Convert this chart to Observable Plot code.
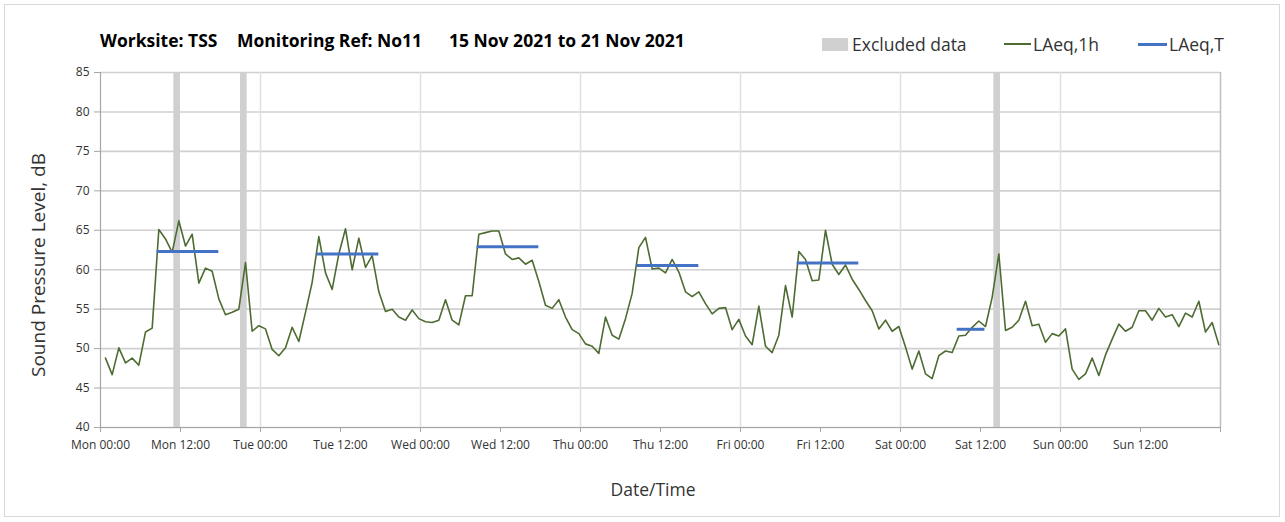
<!DOCTYPE html>
<html><head><meta charset="utf-8">
<script src="https://cdn.jsdelivr.net/npm/d3@7"></script>
<script src="https://cdn.jsdelivr.net/npm/@observablehq/plot@0.6"></script>
<style>
body{margin:0;background:#fff;font-family:"Open Sans",sans-serif;}
#wrap{position:relative;width:1285px;height:522px;overflow:hidden;background:#fff}
#border{position:absolute;left:4px;top:4px;width:1276px;height:513px;border:1px solid #d9d9d9;box-sizing:border-box;pointer-events:none}
#chart{position:absolute;left:0;top:0}
.t{position:absolute;top:29px;font-weight:bold;font-size:17.5px;color:#000;white-space:nowrap;line-height:22px}
.lg{position:absolute;top:32px;font-size:17.5px;color:#333;white-space:nowrap;line-height:24px}
.sw{position:absolute}
.ax{position:absolute;color:#333;white-space:nowrap;line-height:24px}
</style></head>
<body>
<div id="wrap">
  <div id="chart"></div>
  <div id="border"></div>
  <div class="t" style="left:100px">Worksite: TSS</div>
  <div class="t" style="left:237px">Monitoring Ref: No11</div>
  <div class="t" style="left:449px">15 Nov 2021 to 21 Nov 2021</div>
  <div class="sw" style="left:822px;top:38px;width:26px;height:13px;background:#d0d0d0"></div>
  <div class="lg" style="left:852px">Excluded data</div>
  <div class="sw" style="left:1004px;top:43px;width:27px;height:2px;background:#4e6b32"></div>
  <div class="lg" style="left:1033px">LAeq,1h</div>
  <div class="sw" style="left:1138px;top:43px;width:29px;height:3px;background:#4472c4"></div>
  <div class="lg" style="left:1169px">LAeq,T</div>
  <div class="ax" style="left:653px;top:477px;font-size:17.5px;transform:translateX(-50%)">Date/Time</div>
  <div class="ax" style="left:38px;top:265px;font-size:19px;transform:translate(-50%,-50%) rotate(-90deg)">Sound Pressure Level, dB</div>
</div>
<script>
// ---- data ----
const dayNames = ["Mon","Tue","Wed","Thu","Fri","Sat","Sun"];
const periodStart = "2021-11-15T00:00:00Z";
const periodEnd = "2021-11-22T00:00:00Z";
const firstReading = "2021-11-15T00:45:00Z"; // hourly readings from here
const laeq1h = [
  48.8,46.7,50.1,48.2,48.8,47.9,52.1,52.6,65.1,63.9,62.2,66.2,63.0,64.5,58.3,60.2,59.8,56.3,54.3,54.6,55.0,60.9,52.2,52.9,
  52.5,49.9,49.1,50.1,52.7,50.9,54.6,58.4,64.2,59.6,57.5,62.0,65.2,60.0,64.0,60.3,61.8,57.2,54.7,55.0,54.0,53.6,54.9,53.8,
  53.4,53.3,53.6,56.2,53.6,53.0,56.7,56.7,64.5,64.7,64.9,64.9,62.0,61.3,61.5,60.7,61.2,58.5,55.5,55.1,56.2,54.0,52.4,51.9,
  50.6,50.3,49.4,54.0,51.7,51.2,53.8,57.0,62.8,64.1,60.1,60.2,59.6,61.3,59.7,57.2,56.6,57.2,55.7,54.4,55.1,55.2,52.4,53.7,
  51.6,50.5,55.4,50.3,49.5,51.7,58.0,54.0,62.3,61.3,58.6,58.7,65.0,60.7,59.4,60.6,58.8,57.5,56.1,54.8,52.5,53.6,52.2,52.8,
  50.2,47.4,49.7,46.8,46.2,49.1,49.7,49.5,51.6,51.7,52.7,53.5,52.8,56.5,62.0,52.3,52.7,53.6,56.0,52.9,53.1,50.8,51.9,51.6,
  52.5,47.4,46.1,46.8,48.8,46.6,49.2,51.2,53.1,52.2,52.7,54.8,54.8,53.6,55.1,54.0,54.3,52.8,54.5,54.0,56.0,52.1,53.3,50.5
];
const excludedFrom = ["2021-11-15T11:00:00Z","2021-11-15T21:00:00Z","2021-11-20T14:00:00Z"];
const excludedTo   = ["2021-11-15T12:00:00Z","2021-11-15T22:00:00Z","2021-11-20T15:00:00Z"];
const laeqTFrom = ["2021-11-15T08:30:00Z","2021-11-16T08:30:00Z","2021-11-17T08:30:00Z","2021-11-18T08:30:00Z","2021-11-19T08:30:00Z","2021-11-20T08:30:00Z"];
const laeqTTo   = ["2021-11-15T17:45:00Z","2021-11-16T17:45:00Z","2021-11-17T17:45:00Z","2021-11-18T17:45:00Z","2021-11-19T17:45:00Z","2021-11-20T12:40:00Z"];
const laeqT     = [62.3,62.0,62.9,60.55,60.85,52.45];
const yTicks = [40,45,50,55,60,65,70,75,80,85];

// ---- build tables ----
const t0 = new Date(periodStart), t1 = new Date(periodEnd);
const r0 = new Date(firstReading);
const series = laeq1h.map((v,i)=>({t:d3.utcHour.offset(r0,i), v}));
const excluded = excludedFrom.map((s,i)=>({s:new Date(s), e:new Date(excludedTo[i])}));
const segs = laeqT.map((v,i)=>({s:new Date(laeqTFrom[i]), e:new Date(laeqTTo[i]), v}));
const xTicks = d3.utcHour.every(12).range(t0, d3.utcHour.offset(t1,1));
const dayLines = d3.utcDay.range(d3.utcDay.offset(t0,1), t1);
const fmt = d => (+d >= +t1) ? "" : dayNames[(d.getUTCDay()+6)%7] + " " + d3.utcFormat("%H:%M")(d);

const chart = Plot.plot({
  width:1285, height:522,
  marginLeft:100, marginRight:65, marginTop:72, marginBottom:95,
  style:{fontFamily:"'Open Sans',sans-serif", fontSize:"12px", color:"#333", background:"transparent"},
  x:{type:"utc", domain:[t0,t1]},
  y:{domain:[40,85]},
  marks:[
    Plot.ruleY(yTicks, {stroke:"#d0d0d0", strokeWidth:1.6}),
    Plot.ruleX(dayLines, {stroke:"#e0e0e0", strokeWidth:1.5}),
    Plot.rect(excluded, {x1:"s", x2:"e", y1:40, y2:85, fill:"#d0d0d0"}),
    Plot.line(series, {x:"t", y:"v", stroke:"#4e6b32", strokeWidth:1.6}),
    Plot.ruleY(segs, {x1:"s", x2:"e", y:"v", stroke:"#4472c4", strokeWidth:3}),
    Plot.ruleX([t0], {stroke:"#a6a6a6", strokeWidth:1.2}),
    Plot.ruleX([t1], {stroke:"#bfbfbf", strokeWidth:1.5}),
    Plot.ruleY([40], {stroke:"#a6a6a6", strokeWidth:1.2}),
    Plot.axisY({ticks:yTicks, tickSize:6, tickPadding:5, tickFormat:d=>String(d), stroke:"#a6a6a6", label:null}),
    Plot.axisX({ticks:xTicks, tickSize:5, tickPadding:8, tickFormat:fmt, stroke:"#a6a6a6", label:null})
  ]
});
document.getElementById("chart").appendChild(chart);
</script>
</body></html>
